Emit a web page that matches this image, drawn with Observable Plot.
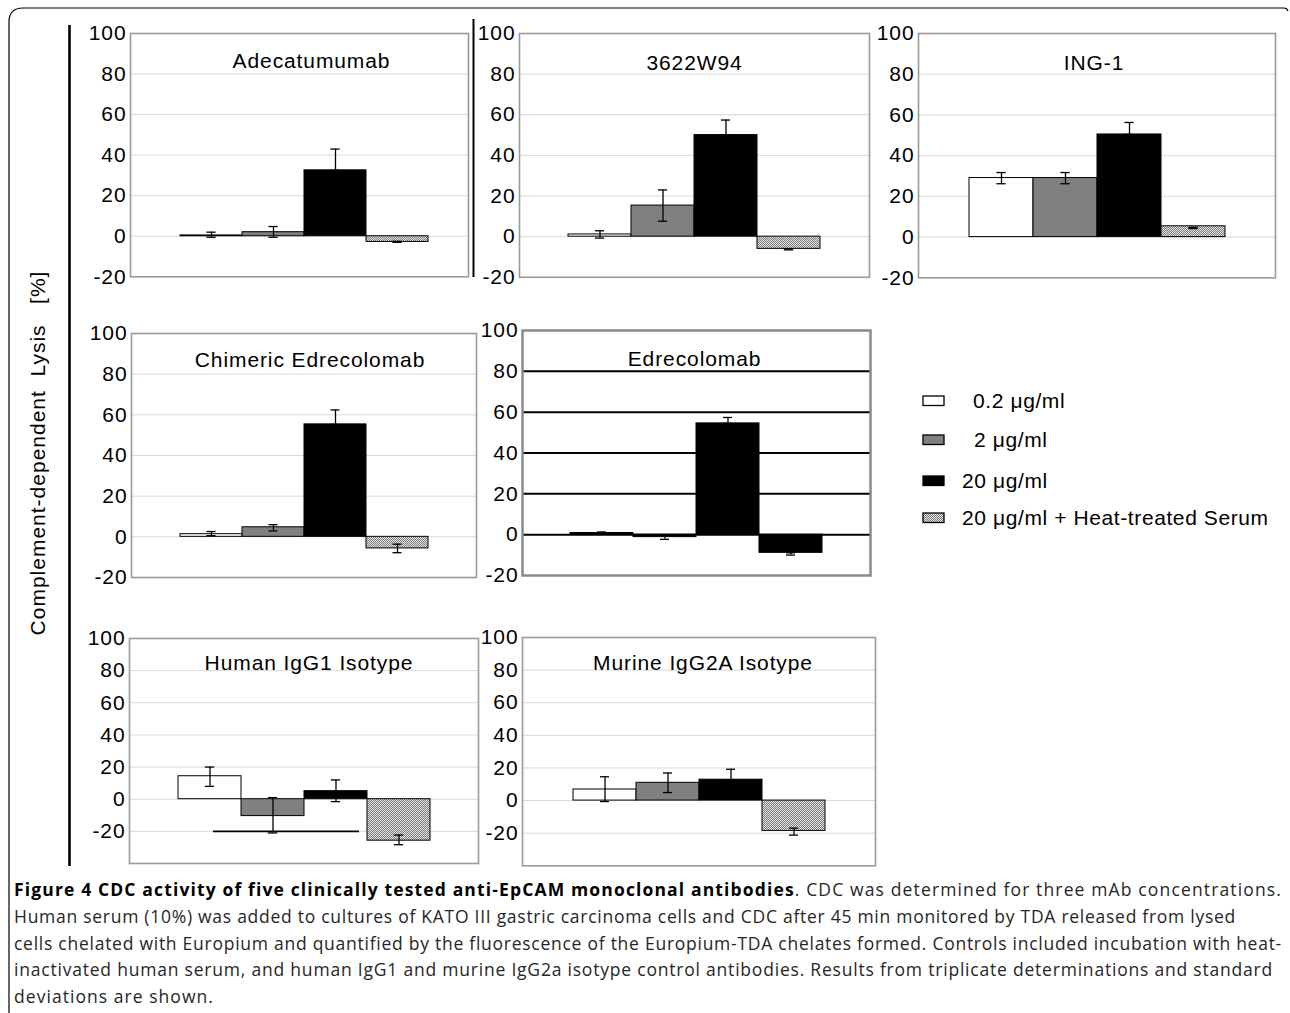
<!DOCTYPE html>
<html><head><meta charset="utf-8">
<script src="https://cdn.jsdelivr.net/npm/d3@7"></script>
<script src="https://cdn.jsdelivr.net/npm/@observablehq/plot@0.6"></script>
<style>
body{margin:0;background:#fff;}
#root{position:relative;width:1290px;height:1013px;overflow:hidden;font-family:"Liberation Sans",Arial,sans-serif;background:#fff;}
.panel{position:absolute;}
.panel svg text{letter-spacing:0.9px !important;font-family:"Liberation Sans",Arial,sans-serif !important;}
.legend-item{position:absolute;display:flex;align-items:center;font-size:21px;letter-spacing:0.6px;white-space:pre;color:#000;}
#caption{position:absolute;left:14px;top:876px;font-family:"Open Sans",sans-serif;font-size:17.5px;line-height:26.8px;color:#262626;}
#caption .ln{display:block;white-space:pre;width:max-content;}
#deco{position:absolute;left:0;top:0;z-index:10;pointer-events:none;}
</style></head><body>
<svg width="0" height="0" style="position:absolute"><defs>
<pattern id="checker" width="2" height="2" patternUnits="userSpaceOnUse">
<rect width="2" height="2" fill="#e6e6e6"/><rect width="1" height="1" fill="#7a7a7a"/><rect x="1" y="1" width="1" height="1" fill="#7a7a7a"/>
</pattern></defs></svg>
<div id="root"></div>
<script>
// ---------- data ----------
const series = ["0.2 μg/ml", "2 μg/ml", "20 μg/ml", "20 μg/ml + Heat-treated Serum"];
const legendLabels = ["0.2 μg/ml", "2 μg/ml", "20 μg/ml", "20 μg/ml + Heat-treated Serum"];
const panelTitles = ["Adecatumumab", "3622W94", "ING-1", "Chimeric Edrecolomab", "Edrecolomab", "Human IgG1 Isotype", "Murine IgG2A Isotype"];
const yAxisTitle = "Complement-dependent  Lysis   [%]";
const yTicks = [-20, 0, 20, 40, 60, 80, 100];
const yDomainTop = [-20, 100];
const yDomainIsotype = [-40, 100];

const adecatumumabMean = [0.4, 2, 32.5, -2.8];
const adecatumumabLow  = [-0.5, -0.5, 32.5, -3];
const adecatumumabHigh = [2, 4.8, 43, -2.5];

const w94Mean = [1.1, 15.3, 50, -6];
const w94Low  = [-0.7, 7.6, 50, -6.5];
const w94High = [2.9, 23, 57.4, -6];

const ing1Mean = [29, 29, 50.4, 5.3];
const ing1Low  = [26.2, 26.2, 50.4, 4.2];
const ing1High = [31.7, 31.7, 56.3, 4.8];

const chimericMean = [1.3, 4.7, 55.3, -5.7];
const chimericLow  = [0.6, 2.9, 55.3, -7.8];
const chimericHigh = [2.6, 6, 62.4, -3.6];

const edrecolomabMean = [0.8, -1.2, 54.5, -8.9];
const edrecolomabLow  = [0.6, -2.3, 54.5, -10];
const edrecolomabHigh = [1.3, 0, 57.4, -8.9];

const igg1Mean = [14.3, -10.5, 5, -25.8];
const igg1Low  = [8, -21, -1.5, -28.3];
const igg1High = [20, 1, 12, -22.3];
const igg1StrayLine = [-20];

const igg2aMean = [6.8, 10.9, 12.8, -18.6];
const igg2aLow  = [-0.6, 4.9, 12.8, -21.2];
const igg2aHigh = [14.6, 16.9, 19.2, -16.9];

// ---------- layout / style ----------
const root = document.getElementById("root");
const normalFills = ["#ffffff", "#808080", "#000000", "url(#checker)"];
const blackFills = ["#000000", "#000000", "#000000", "#000000"];

function panel(cfg, title, mean, lo, hi, extraMarks = []) {
  const data = series.map((s, i) => ({series: s, value: mean[i], lo: lo[i], hi: hi[i]}));
  const mL = 52, mR = 8, mT = 16, mB = 12;
  const fw = cfg.r - cfg.l, fh = cfg.b - cfg.t;
  const po = cfg.po;
  const bw = fw / (4 + 2 * po);
  const capInset = (bw - 10) / 2;
  const gridTicks = yTicks.filter(t => t > cfg.domain[0] && t < cfg.domain[1]);
  const chart = Plot.plot({
    width: fw + mL + mR,
    height: fh + mT + mB,
    marginLeft: mL, marginRight: mR, marginTop: mT, marginBottom: mB,
    style: {background: "transparent", fontFamily: "'Liberation Sans', Arial, sans-serif", fontSize: "21px", overflow: "visible", color: "#000"},
    x: {domain: series, paddingInner: 0, paddingOuter: po, align: cfg.align ?? 0.5, axis: null},
    y: {domain: cfg.domain, ticks: yTicks, tickSize: 0, tickPadding: 4, label: null, tickFormat: d => String(d)},
    color: {domain: series, range: cfg.allBlack ? blackFills : normalFills, type: "ordinal"},
    marks: [
      Plot.ruleY(gridTicks, {stroke: cfg.gridColor, strokeWidth: cfg.gridWidth}),
      Plot.barY(data, {x: "series", y: "value", fill: "series", stroke: "#000", strokeWidth: 1}),
      Plot.ruleX(data, {x: "series", y1: "lo", y2: "hi", stroke: "#000", strokeWidth: 1.3}),
      Plot.tickY(data, {x: "series", y: "lo", insetLeft: capInset, insetRight: capInset, stroke: "#000", strokeWidth: 1.3}),
      Plot.tickY(data, {x: "series", y: "hi", insetLeft: capInset, insetRight: capInset, stroke: "#000", strokeWidth: 1.3}),
      ...extraMarks,
      Plot.frame({stroke: cfg.frameColor, strokeWidth: cfg.frameWidth}),
      Plot.text([title], {text: d => d, frameAnchor: "top", dy: cfg.titleDy, dx: cfg.titleDx, fill: "#000", fontSize: 21})
    ]
  });
  const wrap = document.createElement("div");
  wrap.className = "panel";
  wrap.style.left = (cfg.l - mL) + "px";
  wrap.style.top = (cfg.t - mT) + "px";
  wrap.appendChild(chart);
  root.appendChild(wrap);
}

const light = {gridColor: "#d9d9d9", gridWidth: 1, frameColor: "#9a9a9a", frameWidth: 1.6};

panel({...light, l: 130, r: 468, t: 32.7, b: 276, domain: yDomainTop, po: 0.693, align: 0.55, titleDy: 19.5, titleDx: 12},
  panelTitles[0], adecatumumabMean, adecatumumabLow, adecatumumabHigh);
panel({...light, l: 519, r: 869, t: 32.7, b: 276.5, domain: yDomainTop, po: 0.745, titleDy: 22, titleDx: 0},
  panelTitles[1], w94Mean, w94Low, w94High);
panel({...light, l: 918, r: 1275, t: 32.7, b: 277, domain: yDomainTop, po: 0.757, titleDy: 22, titleDx: -3},
  panelTitles[2], ing1Mean, ing1Low, ing1High);
panel({...light, l: 131, r: 476, t: 332.7, b: 576.7, domain: yDomainTop, po: 0.74, titleDy: 18.5, titleDx: 6},
  panelTitles[3], chimericMean, chimericLow, chimericHigh);
panel({gridColor: "#000", gridWidth: 2, frameColor: "#8a8a8a", frameWidth: 2.5, allBlack: true,
  l: 522, r: 870, t: 330, b: 575, domain: yDomainTop, po: 0.72, titleDy: 21, titleDx: -2},
  panelTitles[4], edrecolomabMean, edrecolomabLow, edrecolomabHigh);
panel({...light, l: 129, r: 478, t: 638, b: 863, domain: yDomainIsotype, po: 0.74, titleDy: 17, titleDx: 5},
  panelTitles[5], igg1Mean, igg1Low, igg1High,
  [Plot.ruleY(igg1StrayLine, {y: d => d, x1: () => series[0], x2: () => series[2], insetLeft: 35, insetRight: 8, stroke: "#000", strokeWidth: 1.6})]);
panel({...light, l: 522, r: 875, t: 636.7, b: 865, domain: yDomainIsotype, po: 0.76, titleDy: 17.5, titleDx: 4},
  panelTitles[6], igg2aMean, igg2aLow, igg2aHigh);

// ---------- legend ----------
const legendY = [400.5, 440, 480.5, 517.5];
const legendTextX = [973, 974, 962, 962];
legendLabels.forEach((lab, i) => {
  const sw = document.createElementNS("http://www.w3.org/2000/svg", "svg");
  sw.setAttribute("width", 24); sw.setAttribute("height", 12);
  sw.style.position = "absolute"; sw.style.left = "921.5px"; sw.style.top = (legendY[i] - 6) + "px";
  const r = document.createElementNS("http://www.w3.org/2000/svg", "rect");
  r.setAttribute("x", 1); r.setAttribute("y", 1); r.setAttribute("width", 21); r.setAttribute("height", 9.5);
  r.setAttribute("fill", normalFills[i]); r.setAttribute("stroke", "#000"); r.setAttribute("stroke-width", 1.3);
  sw.appendChild(r); root.appendChild(sw);
  const t = document.createElement("div");
  t.className = "legend-item";
  t.textContent = lab;
  t.style.left = legendTextX[i] + "px";
  t.style.top = (legendY[i] - 12) + "px";
  t.style.height = "24px";
  root.appendChild(t);
});

// ---------- decorations ----------
const NS = "http://www.w3.org/2000/svg";
const deco = document.createElementNS(NS, "svg");
deco.setAttribute("id", "deco"); deco.setAttribute("width", 1290); deco.setAttribute("height", 1013);
deco.innerHTML = `
  <path d="M9,1013 V22 Q9,8 23,8 H1284 Q1287,8 1288,11" fill="none" stroke="#000" stroke-width="1.2"/>
  <line x1="69.5" y1="25" x2="69.5" y2="866" stroke="#000" stroke-width="2.6"/>
  <line x1="473.5" y1="19" x2="473.5" y2="277" stroke="#000" stroke-width="2"/>`;
const yt = document.createElementNS(NS, "text");
yt.setAttribute("transform", "translate(45,453) rotate(-90)");
yt.setAttribute("text-anchor", "middle");
yt.setAttribute("font-family", "Liberation Sans, Arial, sans-serif");
yt.setAttribute("font-size", "21");
yt.setAttribute("letter-spacing", "1");
yt.setAttribute("style", "white-space:pre");
yt.textContent = yAxisTitle;
deco.appendChild(yt);
root.appendChild(deco);

// ---------- caption ----------
const captionLines = [
  ["Figure 4 CDC activity of five clinically tested anti-EpCAM monoclonal antibodies", ". CDC was determined for three mAb concentrations."],
  ["", "Human serum (10%) was added to cultures of KATO III gastric carcinoma cells and CDC after 45 min monitored by TDA released from lysed"],
  ["", "cells chelated with Europium and quantified by the fluorescence of the Europium-TDA chelates formed. Controls included incubation with heat-"],
  ["", "inactivated human serum, and human IgG1 and murine IgG2a isotype control antibodies. Results from triplicate determinations and standard"],
  ["", "deviations are shown."]
];
const captionEnds = [1282, 1236, 1282, 1273, 214];
const cap = document.createElement("div");
cap.id = "caption";
captionLines.forEach(([b, n]) => {
  const ln = document.createElement("span");
  ln.className = "ln";
  if (b) { const s = document.createElement("b"); s.textContent = b; s.style.color = "#000"; ln.appendChild(s); }
  ln.appendChild(document.createTextNode(n));
  cap.appendChild(ln);
});
root.appendChild(cap);
cap.querySelectorAll(".ln").forEach((ln, i) => {
  const w = ln.getBoundingClientRect().width;
  const target = captionEnds[i] - 14;
  const n = ln.textContent.length;
  ln.style.letterSpacing = ((target - w) / n) + "px";
});
</script>
</body></html>
